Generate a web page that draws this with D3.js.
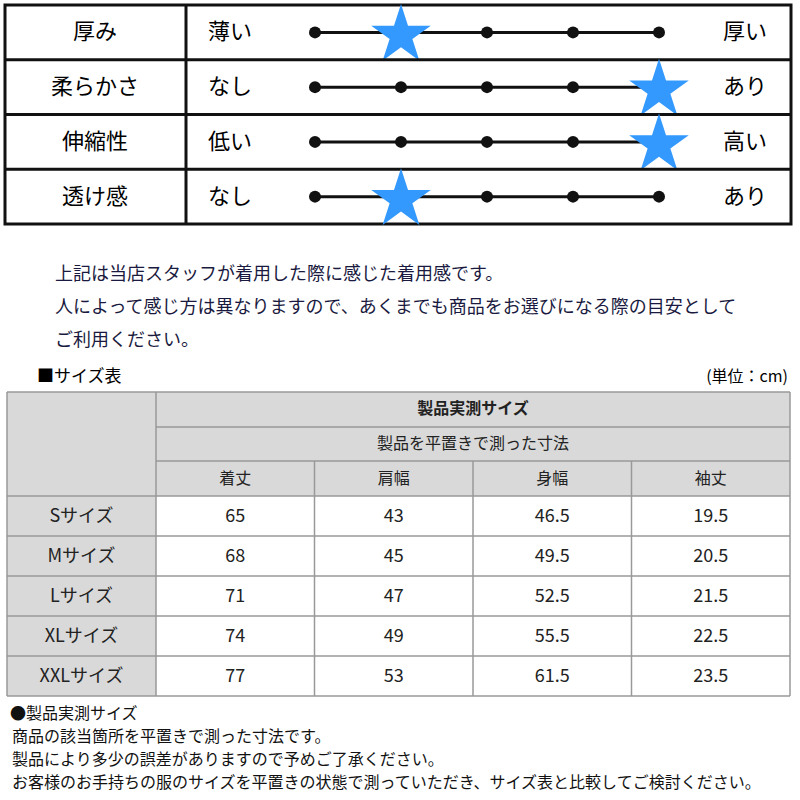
<!DOCTYPE html><html><head><meta charset="utf-8">
<script src="https://cdn.jsdelivr.net/npm/d3@7"></script>
<style>body{margin:0;background:#fff}svg{font-family:"Noto Sans CJK JP","Noto Sans",sans-serif}</style></head><body>
<script>
const attrs=["厚み","柔らかさ","伸縮性","透け感"];
const lowLabels=["薄い","なし","低い","なし"];
const highLabels=["厚い","あり","高い","あり"];
const starPos=[2,5,5,2];
const levels=[1,2,3,4,5];
const noteLines=["上記は当店スタッフが着用した際に感じた着用感です。","人によって感じ方は異なりますので、あくまでも商品をお選びになる際の目安として","ご利用ください。"];
const sizes=["Sサイズ","Mサイズ","Lサイズ","XLサイズ","XXLサイズ"];
const measures=["着丈","肩幅","身幅","袖丈"];
const values=[[65,43,46.5,19.5],[68,45,49.5,20.5],[71,47,52.5,21.5],[74,49,55.5,22.5],[77,53,61.5,23.5]];
const footLines=["●製品実測サイズ","商品の該当箇所を平置きで測った寸法です。","製品により多少の誤差がありますので予めご了承ください。","お客様のお手持ちの服のサイズを平置きの状態で測っていただき、サイズ表と比較してご検討ください。"];

const svg=d3.select("body").append("svg").attr("width",800).attr("height",800);
const ty=d3.scaleBand().domain(attrs).range([5,224]);
const tx=d3.scalePoint().domain(levels).range([315,659]);
svg.append("rect").attr("x",5).attr("y",5).attr("width",786).attr("height",219).attr("fill","none").attr("stroke","#111").attr("stroke-width",3);
attrs.forEach((a,i)=>{
  const y0=ty(a),cy=y0+ty.bandwidth()/2;
  const ly=cy-3;
  if(i>0)svg.append("line").attr("x1",5).attr("x2",791).attr("y1",y0).attr("y2",y0).attr("stroke","#111").attr("stroke-width",3);
  svg.append("text").attr("x",95).attr("y",ly).attr("text-anchor","middle").attr("dominant-baseline","central").attr("font-size",22).text(a);
  svg.append("text").attr("x",208).attr("y",ly).attr("dominant-baseline","central").attr("font-size",22).text(lowLabels[i]);
  svg.append("text").attr("x",745).attr("y",ly).attr("text-anchor","middle").attr("dominant-baseline","central").attr("font-size",22).text(highLabels[i]);
  svg.append("line").attr("x1",tx(1)).attr("x2",tx(5)).attr("y1",cy).attr("y2",cy).attr("stroke","#111").attr("stroke-width",3);
  levels.forEach(l=>{ if(l!==starPos[i]) svg.append("circle").attr("cx",tx(l)).attr("cy",cy).attr("r",6).attr("fill","#111");});
  svg.append("path").attr("d",d3.symbol(d3.symbolStar,1100)()).attr("transform",`translate(${tx(starPos[i])},${cy+3})`).attr("fill","#3399ff");
});
svg.append("line").attr("x1",186).attr("x2",186).attr("y1",5).attr("y2",224).attr("stroke","#111").attr("stroke-width",3);
noteLines.forEach((t,i)=>svg.append("text").attr("x",55).attr("y",280+i*33).attr("font-size",18).attr("fill","#1a1a40").text(t));
svg.append("text").attr("x",37).attr("y",382).attr("font-size",17).text("■サイズ表");
svg.append("text").attr("x",788).attr("y",382).attr("text-anchor","end").attr("font-size",16).text("(単位：cm)");
const L=7,R=790,C0=156;
const cx=d3.scaleBand().domain(measures).range([C0,R]);
const ry=d3.scaleBand().domain(sizes).range([496,696]);
const g=svg.append("g");
g.append("rect").attr("x",L).attr("y",392).attr("width",R-L).attr("height",104).attr("fill","#d9d9d9");
g.append("rect").attr("x",L).attr("y",496).attr("width",C0-L).attr("height",200).attr("fill","#d9d9d9");
const st="#999";
const hl=(y,x1,x2)=>g.append("line").attr("x1",x1).attr("x2",x2).attr("y1",y).attr("y2",y).attr("stroke",st).attr("stroke-width",1.5);
const vl=(x,y1,y2)=>g.append("line").attr("x1",x).attr("x2",x).attr("y1",y1).attr("y2",y2).attr("stroke",st).attr("stroke-width",1.5);
hl(392,L,R);hl(427,C0,R);hl(461,C0,R);
sizes.forEach(s=>hl(ry(s),L,R));hl(696,L,R);
vl(L,392,696);vl(R,392,696);vl(C0,392,696);
measures.slice(1).forEach(m=>vl(cx(m),461,696));
const T=(x,y,t,o={})=>g.append("text").attr("x",x).attr("y",y).attr("text-anchor","middle").attr("dominant-baseline","central").attr("font-size",o.fs||18).attr("font-weight",o.fw||400).attr("fill","#222").text(t);
T((C0+R)/2,407,"製品実測サイズ",{fw:700,fs:16});
T((C0+R)/2,442,"製品を平置きで測った寸法",{fs:16});
measures.forEach(m=>T(cx(m)+cx.bandwidth()/2,477,m,{fs:16}));
sizes.forEach((s,i)=>{
  const y=ry(s)+ry.bandwidth()/2-2;
  T((L+C0)/2,y,s);
  values[i].forEach((v,j)=>T(cx(measures[j])+cx.bandwidth()/2,y,v));
});
footLines.forEach((t,i)=>svg.append("text").attr("x",i===0?10:12).attr("y",719+i*23).attr("font-size",16).attr("fill","#111").text(t));
</script></body></html>
